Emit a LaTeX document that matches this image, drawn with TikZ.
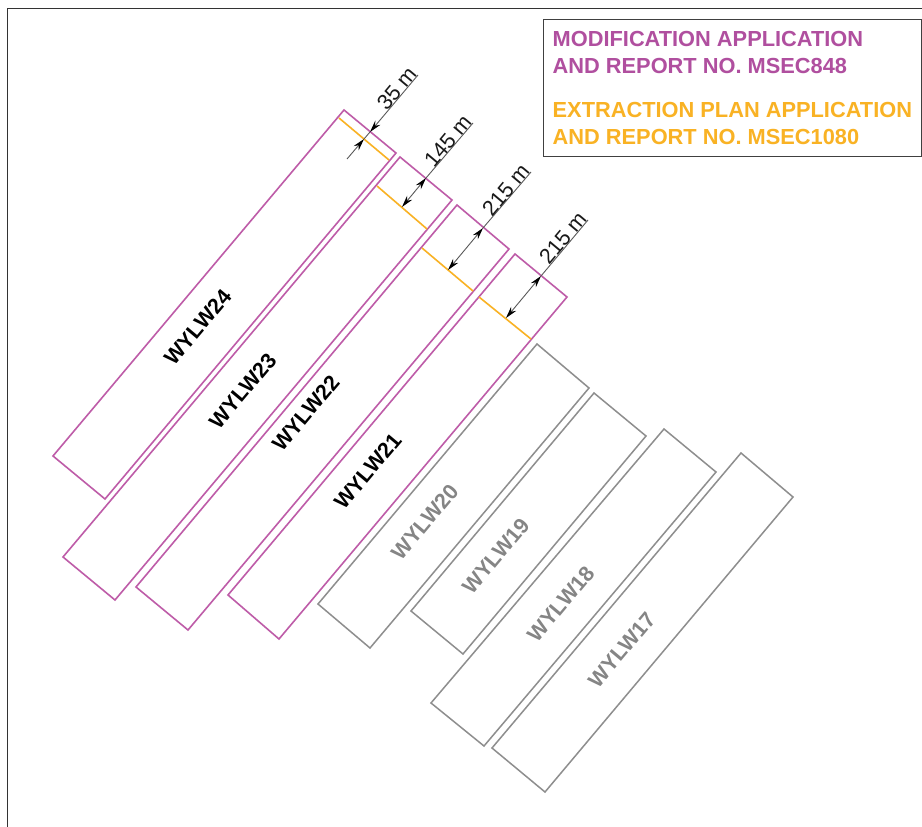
\documentclass[tikz,border=0pt]{standalone}
\usepackage{fontspec}
\setmainfont{Liberation Sans}
\usetikzlibrary{arrows.meta}
\definecolor{modpurple}{HTML}{BE5CA8}
\definecolor{legpurple}{HTML}{B04F9F}
\definecolor{extorange}{HTML}{F9B224}
\definecolor{oldgrey}{HTML}{8E8E8E}
\definecolor{txtgrey}{HTML}{858585}
\tikzset{
  frameline/.style={draw=black!80,line width=1pt},
  modpanel/.style={draw=modpurple,line width=1.6pt,line join=miter},
  oldpanel/.style={draw=oldgrey,line width=1.5pt,line join=miter},
  extline/.style={draw=extorange,line width=1.6pt},
  dimline/.style={draw=black!65,line width=0.9pt},
  dimarrow/.style={dimline,{Stealth[length=12pt,width=6.5pt,black]}-{Stealth[length=12pt,width=6.5pt,black]}},
  dimsingle/.style={dimline,-{Stealth[length=12pt,width=6.5pt,black]}},
  dimtext/.style={rotate=50,anchor=south east,inner sep=0pt,font=\fontsize{21.5}{21.5}\selectfont,text=black!90},
  panellabel/.style={rotate=50,font=\fontsize{21.5}{21.5}\selectfont\bfseries,text=black},
  oldlabel/.style={panellabel,text=txtgrey},
  legendtext/.style={anchor=base west,inner sep=0pt,font=\fontsize{21.8}{21.8}\selectfont\bfseries},
}
\begin{document}
\begin{tikzpicture}[x=1pt,y=-1pt]
\useasboundingbox (0,0) rectangle (922,827);
\fill[white] (0,0) rectangle (922,827);
% frame
\draw[frameline] (7.5,827) -- (7.5,8) -- (922,8);
% legend
\node[draw=black!75,line width=1pt,minimum width=378pt,minimum height=137pt,anchor=north west,inner sep=0pt] (legend) at (543,19) {};
\node[legendtext,text=legpurple] (leg1) at (552.5,46) {MODIFICATION APPLICATION};
\node[legendtext,text=legpurple] (leg2) at (552.5,73) {AND REPORT NO. MSEC848};
\node[legendtext,text=extorange] (leg3) at (552.5,117) {EXTRACTION PLAN APPLICATION};
\node[legendtext,text=extorange] (leg4) at (552.5,144) {AND REPORT NO. MSEC1080};
% modification panels
\draw[modpanel] (344,110) -- (396,153) -- (105,499) -- (53,456) -- cycle;
\draw[modpanel] (400,157) -- (452,200) -- (115,600) -- (63,557) -- cycle;
\draw[modpanel] (457,205) -- (509,249) -- (188,630) -- (136,587) -- cycle;
\draw[modpanel] (515,254) -- (567,297) -- (279,639) -- (228,595) -- cycle;
% extraction lines
\draw[extline] (339,118) -- (389,160);
\draw[extline] (377,186) -- (427,229);
\draw[extline] (422,248) -- (473,291);
\draw[extline] (479,297) -- (531,339);
% previous panels
\draw[oldpanel] (537,344) -- (589,388) -- (370,648) -- (318,604) -- cycle;
\draw[oldpanel] (594,393) -- (646,436) -- (463,654) -- (411,611) -- cycle;
\draw[oldpanel] (664,429) -- (716,472) -- (484,746) -- (431,703) -- cycle;
\draw[oldpanel] (741,453) -- (793,497) -- (545,792) -- (492,748) -- cycle;
% panel labels
\node[panellabel] (w24) at (198,327) {WYLW24};
\node[panellabel] (w23) at (243,391) {WYLW23};
\node[panellabel] (w22) at (306,413) {WYLW22};
\node[panellabel] (w21) at (368,471) {WYLW21};
\node[oldlabel] (w20) at (425,522) {WYLW20};
\node[oldlabel] (w19) at (496,556) {WYLW19};
\node[oldlabel] (w18) at (561,604) {WYLW18};
\node[oldlabel] (w17) at (622,650) {WYLW17};
% dimensions
\coordinate (d1s) at (347,159); \coordinate (d1a) at (364,139); \coordinate (d1b) at (370,132); \coordinate (d1e) at (418,75);
\coordinate (d2a) at (402,207); \coordinate (d2b) at (426,178); \coordinate (d2e) at (473,123);
\coordinate (d3a) at (448,270); \coordinate (d3b) at (483,228); \coordinate (d3e) at (531,172);
\coordinate (d4a) at (506,318); \coordinate (d4b) at (541,276); \coordinate (d4e) at (588,220);
\draw[dimsingle] (d1s) -- (d1a);
\draw[dimsingle] (d1e) -- (d1b);
\draw[dimline] (d1a) -- (d1b);
\draw[dimarrow] (d2a) -- (d2b);
\draw[dimline] (d2b) -- (d2e);
\draw[dimarrow] (d3a) -- (d3b);
\draw[dimline] (d3b) -- (d3e);
\draw[dimarrow] (d4a) -- (d4b);
\draw[dimline] (d4b) -- (d4e);
\node[dimtext] (t1) at (d1e) {35 m};
\node[dimtext] (t2) at (d2e) {145 m};
\node[dimtext] (t3) at (d3e) {215 m};
\node[dimtext] (t4) at (d4e) {215 m};
\end{tikzpicture}
\end{document}
